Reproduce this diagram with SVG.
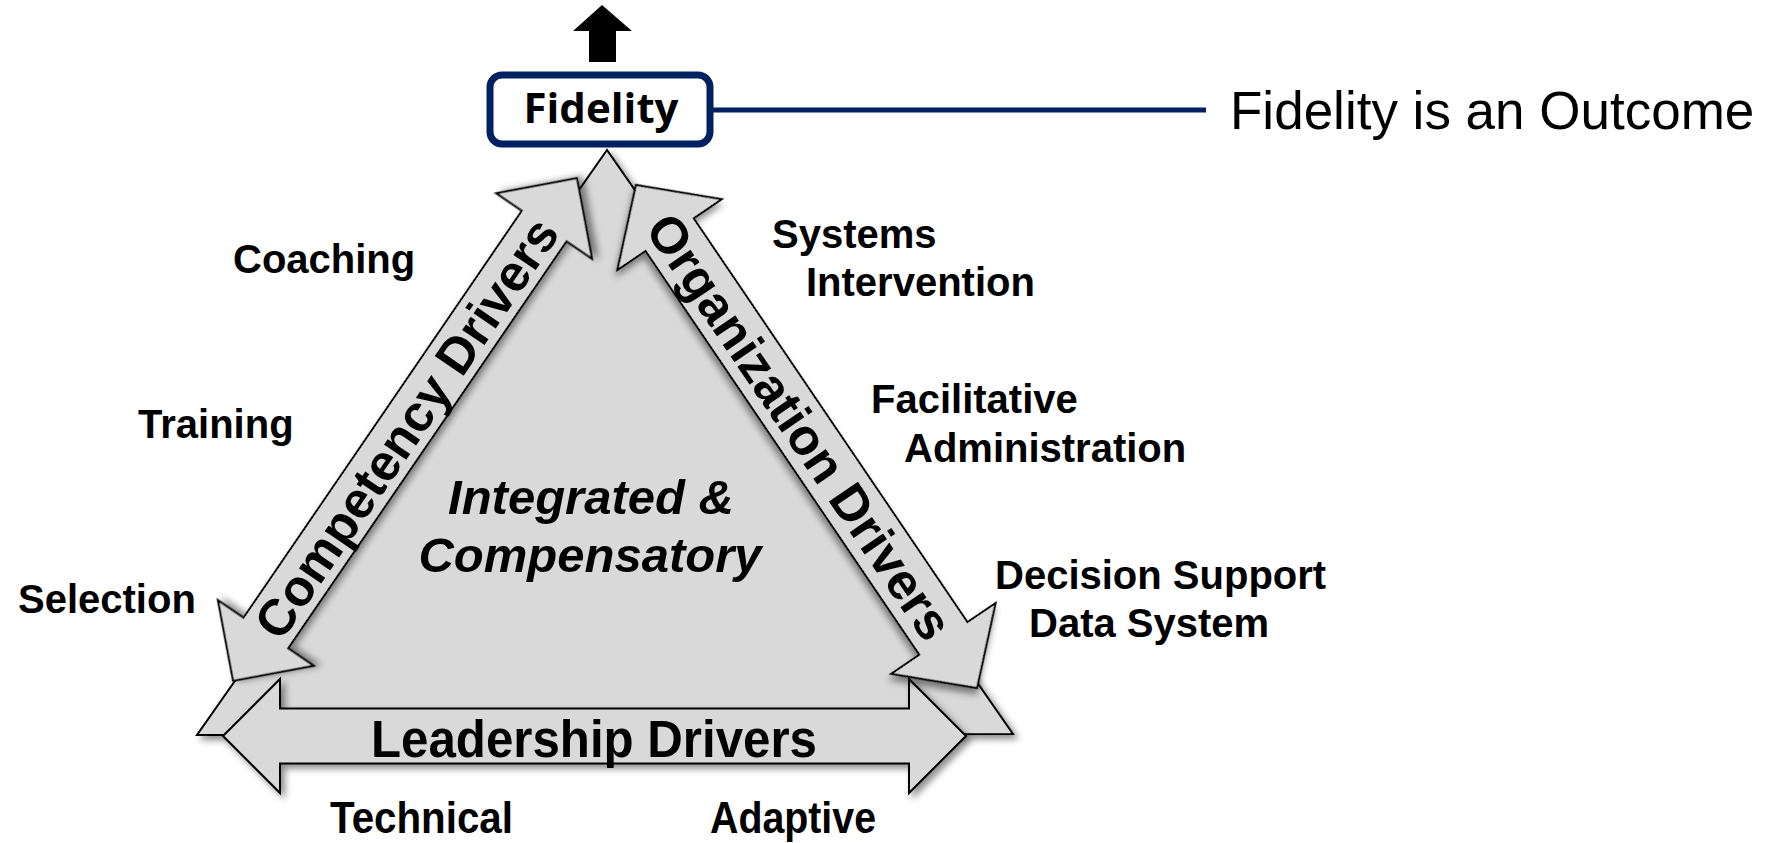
<svg xmlns="http://www.w3.org/2000/svg" width="1783" height="843" viewBox="0 0 1783 843">
<style>
.shape{fill:#d9d9d9;stroke:#000;stroke-width:2;stroke-linejoin:miter}
.lbl{font-family:"Liberation Sans",Arial,sans-serif;font-weight:bold;font-size:40px;fill:#000}
.band{font-family:"Liberation Sans",Arial,sans-serif;font-weight:bold;font-size:51px;fill:#000}
.center{font-family:"Liberation Sans",Arial,sans-serif;font-weight:bold;font-style:italic;font-size:49px;fill:#000}
.narrow{font-family:"Liberation Sans",Arial,sans-serif;font-weight:bold;fill:#000}
.navy{stroke:#002060}
</style>
<defs>
<filter id="sh" x="-10%" y="-10%" width="130%" height="130%">
<feDropShadow dx="4" dy="4" stdDeviation="3.5" flood-color="#000" flood-opacity="0.45"/>
</filter>
</defs>

<g id="triangle">
<polygon class="shape" points="607,150 197,735 1013,734" filter="url(#sh)"/>
</g>

<g id="connectors">
<polygon id="up-arrow" points="602,5 632,31 616,31 616,62 589,62 589,31 573,31" fill="#000"/>
<line x1="713" y1="110" x2="1206" y2="110" class="navy" stroke-width="5"/>
</g>

<g id="leadership-drivers">
<g transform="translate(594.5,736)" filter="url(#sh)">
<path class="shape" d="M-371.5,0 L-314.5,-57 L-314.5,-27.5 L314.5,-27.5 L314.5,-57 L371.5,0 L314.5,57 L314.5,27.5 L-314.5,27.5 L-314.5,57 Z"/>
</g>
<text class="narrow" x="594" y="757" font-size="51" text-anchor="middle" textLength="446" lengthAdjust="spacingAndGlyphs">Leadership Drivers</text>
</g>

<g id="competency-drivers">
<g transform="translate(405,429.5) rotate(-55.63)">
<path class="shape" filter="url(#sh)" d="M-304.5,0 L-246.5,-58 L-246.5,-27 L246.5,-27 L246.5,-58 L304.5,0 L246.5,58 L246.5,27 L-246.5,27 L-246.5,58 Z"/>
<text class="band" x="2" y="18" text-anchor="middle">Competency Drivers</text>
</g>
</g>

<g id="organization-drivers">
<g transform="translate(806.5,436.5) rotate(55.86)">
<path class="shape" filter="url(#sh)" d="M-303.9,0 L-244,-63 L-244,-29 L244,-29 L244,-63 L303.9,0 L244,63 L244,29 L-244,29 L-244,63 Z"/>
<text class="band" x="-12" y="18" text-anchor="middle">Organization Drivers</text>
</g>
</g>

<g id="fidelity">
<rect x="490" y="75" width="220" height="69" rx="12" ry="12" fill="#fff" class="navy" stroke-width="7"/>
<text x="601" y="123" text-anchor="middle" font-family="'Open Sans','Noto Sans',sans-serif" font-weight="bold" font-size="42">Fidelity</text>
</g>

<g id="outcome">
<text x="1230" y="129" font-family="'Liberation Sans',Arial,sans-serif" font-size="53">Fidelity is an Outcome</text>
</g>

<g id="integrated">
<text class="center" x="591" y="514" text-anchor="middle">Integrated &amp;</text>
<text class="center" x="590" y="572" text-anchor="middle">Compensatory</text>
</g>

<g id="competency-labels">
<text class="lbl" x="233" y="273">Coaching</text>
<text class="lbl" x="138" y="438">Training</text>
<text class="lbl" x="18" y="613">Selection</text>
</g>

<g id="organization-labels">
<text class="lbl" x="772" y="248">Systems</text>
<text class="lbl" x="806" y="296">Intervention</text>
<text class="lbl" x="871" y="413">Facilitative</text>
<text class="lbl" x="904" y="462">Administration</text>
<text class="lbl" x="995" y="589">Decision Support</text>
<text class="lbl" x="1029" y="637">Data System</text>
</g>

<g id="leadership-labels">
<text class="narrow" x="330" y="833" font-size="44" textLength="183" lengthAdjust="spacingAndGlyphs">Technical</text>
<text class="narrow" x="710" y="833" font-size="44" textLength="166" lengthAdjust="spacingAndGlyphs">Adaptive</text>
</g>
</svg>
